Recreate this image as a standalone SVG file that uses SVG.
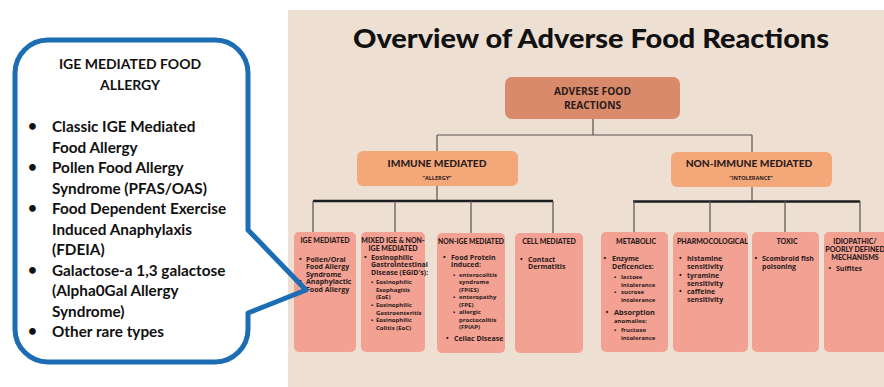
<svg xmlns="http://www.w3.org/2000/svg" width="884" height="387" viewBox="0 0 884 387">
<style>
.f{font-family:Lato,"Liberation Sans",sans-serif;font-weight:700}
.k{font-family:Lato,"Liberation Sans",sans-serif;font-weight:900}
.o{font-family:"Open Sans","Liberation Sans",sans-serif;font-weight:700}
.tx{fill:#2b1b1b}
.h{font-size:7px;text-anchor:middle}
.b{font-size:7px}
.s{font-size:6px}
.bx{fill:#f2a192}
.c{font-size:15.3px;fill:#111}
.ln{stroke:#5a5050;stroke-width:1.2;fill:none}
.tk{stroke:#1e1e1e;stroke-width:2.6;fill:none}
</style>
<rect x="0" y="0" width="884" height="387" fill="#ffffff"/>
<rect x="288" y="10" width="596" height="377" fill="#eedfd3"/>
<text class="k" x="591" y="48" font-size="27" text-anchor="middle" fill="#111" textLength="476" lengthAdjust="spacingAndGlyphs">Overview of Adverse Food Reactions</text>

<g id="connectors">
<path class="ln" d="M593,119 V135 M437,135 H752 M437,135 V151 M752,135 V152 M437,186 V201 M752,187 V201"/>
<path class="tk" d="M313,201 H553 M633,201.5 H860"/>
<path class="ln" d="M313,201 V232 M395,201 V232 M471,201 V233 M553,201 V233 M634,201 V232 M710,201 V232 M785,201 V232 M860,201 V232"/>
</g>

<g id="root">
<rect x="505" y="77" width="175" height="42" rx="7" fill="#d98a6b"/>
<text class="o tx" x="592.5" y="95" font-size="10.2" text-anchor="middle">ADVERSE FOOD</text>
<text class="o tx" x="592.5" y="108.5" font-size="10.2" text-anchor="middle">REACTIONS</text>
</g>
<g id="immune">
<rect x="357" y="151" width="161" height="35" rx="6" fill="#f4a879"/>
<text class="k tx" x="437" y="167" font-size="10.2" text-anchor="middle">IMMUNE MEDIATED</text>
<text class="o tx" x="437" y="180" font-size="5.5" text-anchor="middle">“ALLERGY”</text>
</g>
<g id="nonimmune">
<rect x="671" y="152" width="161" height="35" rx="6" fill="#f4a879"/>
<text class="k tx" x="749" y="167" font-size="10.2" text-anchor="middle">NON-IMMUNE MEDIATED</text>
<text class="o tx" x="751" y="180" font-size="5.5" text-anchor="middle">“INTOLERANCE”</text>
</g>

<g id="ige">
<rect class="bx" x="294" y="232" width="62" height="120" rx="5"/>
<text class="k tx h" x="325" y="243">IGE MEDIATED</text>
<text class="o tx b" x="299" y="261.5">•</text>
<text class="o tx b" x="306" y="261.5">Pollen/Oral</text>
<text class="o tx b" x="306" y="269">Food Allergy</text>
<text class="o tx b" x="306" y="276.5">Syndrome</text>
<text class="o tx b" x="299" y="284">•</text>
<text class="o tx b" x="306" y="284">Anaphylactic</text>
<text class="o tx b" x="306" y="291.5">Food Allergy</text>
</g>

<g id="mixed">
<rect class="bx" x="361" y="232" width="64" height="120" rx="5"/>
<text class="k tx h" x="393" y="243">MIXED IGE &amp; NON-</text>
<text class="k tx h" x="393" y="250.5">IGE MEDIATED</text>
<text class="o tx b" x="364" y="259.5">•</text>
<text class="o tx b" x="371" y="259.5">Eosinophilic</text>
<text class="o tx b" x="371" y="267">Gastrointestinal</text>
<text class="o tx b" x="371" y="275">Disease (EGID's):</text>
<text class="o tx s" x="371" y="284">•</text>
<text class="o tx s" x="376" y="284">Eosinophilic</text>
<text class="o tx s" x="376" y="291.5">Esophagitis</text>
<text class="o tx s" x="376" y="299">(EoE)</text>
<text class="o tx s" x="371" y="307">•</text>
<text class="o tx s" x="376" y="307">Eosinophilic</text>
<text class="o tx s" x="376" y="314.5">Gastroenteritis</text>
<text class="o tx s" x="371" y="322">•</text>
<text class="o tx s" x="376" y="322">Eosinophilic</text>
<text class="o tx s" x="376" y="329.5">Colitis (EoC)</text>
</g>

<g id="nonige">
<rect class="bx" x="437" y="233" width="68" height="120" rx="5"/>
<text class="k tx h" x="471" y="243.5" textLength="66" lengthAdjust="spacingAndGlyphs">NON-IGE MEDIATED</text>
<text class="o tx b" x="443" y="259.5">•</text>
<text class="o tx b" x="451" y="259.5">Food Protein</text>
<text class="o tx b" x="451" y="267">induced:</text>
<text class="o tx s" x="453" y="276.5">•</text>
<text class="o tx s" x="459" y="276.5">enterocolitis</text>
<text class="o tx s" x="459" y="284">syndrome</text>
<text class="o tx s" x="459" y="291.5">(FPIES)</text>
<text class="o tx s" x="453" y="299">•</text>
<text class="o tx s" x="459" y="299">enteropathy</text>
<text class="o tx s" x="459" y="306.5">(FPE)</text>
<text class="o tx s" x="453" y="314">•</text>
<text class="o tx s" x="459" y="314">allergic</text>
<text class="o tx s" x="459" y="321.5">proctocolitis</text>
<text class="o tx s" x="459" y="329">(FPIAP)</text>
<text class="o tx b" x="446" y="340.5">•</text>
<text class="o tx b" x="454" y="340.5">Celiac Disease</text>
</g>

<g id="cell">
<rect class="bx" x="515" y="233" width="68" height="120" rx="5"/>
<text class="k tx h" x="549" y="244">CELL MEDIATED</text>
<text class="o tx b" x="520" y="261.5">•</text>
<text class="o tx b" x="528" y="261.5">Contact</text>
<text class="o tx b" x="528" y="269">Dermatitis</text>
</g>

<g id="metabolic">
<rect class="bx" x="601" y="232" width="67" height="120" rx="5"/>
<text class="k tx h" x="636" y="244">METABOLIC</text>
<text class="o tx b" x="603.5" y="261">•</text>
<text class="o tx b" x="612" y="261">Enzyme</text>
<text class="o tx b" x="612" y="269">Deficencies:</text>
<text class="o tx s" x="614" y="279">•</text>
<text class="o tx s" x="621" y="279">lactose</text>
<text class="o tx s" x="621" y="286.5">intolerance</text>
<text class="o tx s" x="614" y="294">•</text>
<text class="o tx s" x="621" y="294">sucrose</text>
<text class="o tx s" x="621" y="301.5">intolerance</text>
<text class="o tx" x="605.5" y="314.5" font-size="7.4">•</text>
<text class="o tx" x="614" y="314.5" font-size="7.4">Absorption</text>
<text class="o tx s" x="614" y="322.5">anomalies:</text>
<text class="o tx s" x="614" y="332">•</text>
<text class="o tx s" x="621" y="332">fructose</text>
<text class="o tx s" x="621" y="340">intolerance</text>
</g>

<g id="pharm">
<rect class="bx" x="673" y="232" width="75" height="120" rx="5"/>
<text class="k tx" x="677" y="244" font-size="7" textLength="71" lengthAdjust="spacingAndGlyphs">PHARMOCOLOGICAL</text>
<text class="o tx b" x="679" y="260.5">•</text>
<text class="o tx b" x="687" y="260.5">histamine</text>
<text class="o tx b" x="687" y="269">sensitivity</text>
<text class="o tx b" x="679" y="277.5">•</text>
<text class="o tx b" x="687" y="277.5">tyramine</text>
<text class="o tx b" x="687" y="285.5">sensitivity</text>
<text class="o tx b" x="679" y="294">•</text>
<text class="o tx b" x="687" y="294">caffeine</text>
<text class="o tx b" x="687" y="302">sensitivity</text>
</g>

<g id="toxic">
<rect class="bx" x="752" y="232" width="67" height="120" rx="5"/>
<text class="k tx h" x="787" y="244">TOXIC</text>
<text class="o tx b" x="754.5" y="260.5">•</text>
<text class="o tx b" x="762" y="260.5">Scombroid fish</text>
<text class="o tx b" x="762" y="269">poisoning</text>
</g>

<g id="idiopathic">
<rect class="bx" x="824" y="232" width="70" height="120" rx="5"/>
<text class="k tx h" x="855" y="243.5">IDIOPATHIC/</text>
<text class="k tx h" x="855" y="251.5">POORLY DEFINED</text>
<text class="k tx h" x="855" y="260">MECHANISMS</text>
<text class="o tx b" x="828.5" y="271">•</text>
<text class="o tx b" x="836" y="271">Sulfites</text>
</g>

<g id="callout">
<path d="M48,40 H215 A33,33 0 0 1 248,73 V230 L306,290 L248,313 V329 A33,33 0 0 1 215,362 H48 A33,33 0 0 1 15,329 V73 A33,33 0 0 1 48,40 Z" fill="none" stroke="#1c6db3" stroke-width="5" stroke-linejoin="round"/>
<text class="f" x="130" y="69" font-size="14" fill="#111" text-anchor="middle">IGE MEDIATED FOOD</text>
<text class="f" x="130" y="90" font-size="14" fill="#111" text-anchor="middle">ALLERGY</text>
<text class="f c" x="28" y="131" font-size="12">•</text>
<text class="f c" x="52" y="132">Classic IGE Mediated</text>
<text class="f c" x="52" y="152.5">Food Allergy</text>
<text class="f c" x="28" y="172" font-size="12">•</text>
<text class="f c" x="52" y="173">Pollen Food Allergy</text>
<text class="f c" x="52" y="193.5">Syndrome (PFAS/OAS)</text>
<text class="f c" x="28" y="213" font-size="12">•</text>
<text class="f c" x="52" y="214">Food Dependent Exercise</text>
<text class="f c" x="52" y="234.5">Induced Anaphylaxis</text>
<text class="f c" x="52" y="255">(FDEIA)</text>
<text class="f c" x="28" y="274.5" font-size="12">•</text>
<text class="f c" x="52" y="275.5">Galactose-a 1,3 galactose</text>
<text class="f c" x="52" y="296">(Alpha0Gal Allergy</text>
<text class="f c" x="52" y="316.5">Syndrome)</text>
<text class="f c" x="28" y="336" font-size="12">•</text>
<text class="f c" x="52" y="337">Other rare types</text>
</g>
</svg>
